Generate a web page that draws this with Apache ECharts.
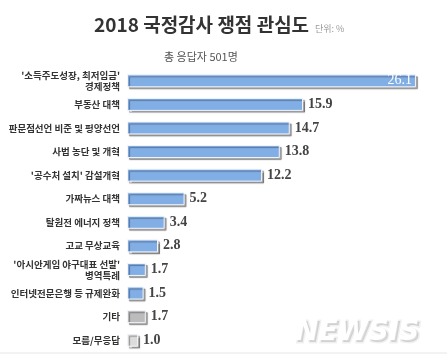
<!DOCTYPE html>
<html>
<head>
<meta charset="utf-8">
<script src="https://cdn.jsdelivr.net/npm/echarts@6/dist/echarts.min.js"></script>
<style>html,body{margin:0;padding:0;background:#fff;}#c{width:447px;height:363px;}</style>
</head>
<body>
<div id="c"></div>
<script>
var categories = [
  "'소득주도성장, 최저임금'\n경제정책",
  "부동산 대책",
  "판문점선언 비준 및 평양선언",
  "사법 농단 및 개혁",
  "'공수처 설치' 감설개혁",
  "가짜뉴스 대책",
  "탈원전 에너지 정책",
  "고교 무상교육",
  "'아시안게임 야구대표 선발'\n병역특례",
  "인터넷전문은행 등 규제완화",
  "기타",
  "모름/무응답"
];
var values = [26.1, 15.9, 14.7, 13.8, 12.2, 5.2, 3.4, 2.8, 1.7, 1.5, 1.7, 1.0];

var chart = echarts.init(document.getElementById('c'), null, {renderer: 'canvas'});
var serifFont = '"Liberation Serif", "DejaVu Serif", serif';
var data = values.map(function (v, i) {
  var color = '#82aee6';
  if (categories[i] === '기타') color = '#bcbcbc';
  if (categories[i] === '모름/무응답') color = '#dcdcdc';
  var item = {value: v, itemStyle: {color: color}};
  if (i === 0) {
    item.label = {position: 'insideRight', color: '#ffffff', fontWeight: 'normal', distance: 4};
  }
  return item;
});

var wmFont = 'italic bold 28px "DejaVu Sans", sans-serif';
chart.setOption({
  animation: false,
  title: [
    {text: '2018 국정감사 쟁점 관심도', left: 94, top: 15, padding: 0,
     textStyle: {fontFamily: '"Noto Sans CJK KR"', fontWeight: 'bold', fontSize: 19, color: '#333'}},
    {text: '단위: %', left: 315, top: 24, padding: 0,
     textStyle: {fontFamily: '"Noto Sans CJK KR"', fontWeight: 'normal', fontSize: 9, color: '#999'}},
    {text: '총 응답자 501명', left: 164, top: 51, padding: 0,
     textStyle: {fontFamily: '"Noto Sans CJK KR"', fontWeight: 'normal', fontSize: 11, color: '#555'}}
  ],
  grid: {left: 127, right: 10, top: 69, bottom: 11},
  xAxis: {type: 'value', min: 0, max: 28, show: false},
  yAxis: {
    type: 'category', data: categories, inverse: true,
    axisLine: {show: false}, axisTick: {show: false},
    axisLabel: {
      fontFamily: '"Noto Sans CJK KR"', fontWeight: 'bold', fontSize: 9.5, color: '#333',
      margin: 7, lineHeight: 11, align: 'right'
    }
  },
  series: [{
    type: 'bar', data: data, barWidth: 13,
    itemStyle: {borderColor: '#f2f6fc', borderWidth: 1,
      shadowColor: 'rgba(0,0,0,0.35)', shadowOffsetX: 2, shadowOffsetY: 2, shadowBlur: 1},
    label: {show: true, position: 'right', distance: 5,
      formatter: function (p) { return p.value.toFixed(1); },
      fontFamily: serifFont, fontWeight: 'bold', fontSize: 14, color: '#444'}
  }],
  graphic: [
    {type: 'line', shape: {x1: 0, y1: 353, x2: 447, y2: 353}, style: {stroke: '#e6e6e6', lineWidth: 1}},
    {type: 'text', x: 297, y: 321, z: 9,
     style: {text: 'NEWSIS', fill: 'rgba(0,0,0,0.13)', font: wmFont,
       stroke: 'rgba(0,0,0,0.06)', lineWidth: 3}},
    {type: 'text', x: 295, y: 319, z: 10,
     style: {text: 'NEWSIS', fill: '#ffffff', font: wmFont}}
  ]
});
</script>
</body>
</html>
